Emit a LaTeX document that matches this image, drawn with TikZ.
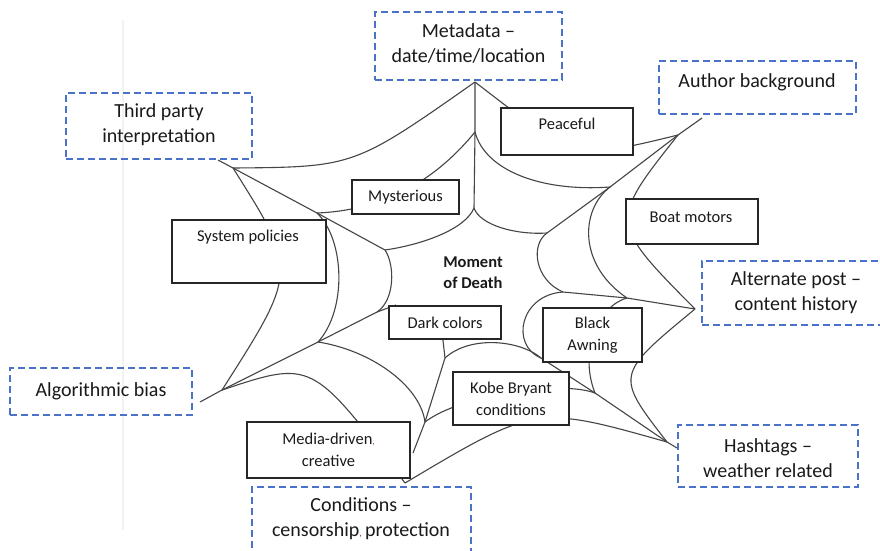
\documentclass[tikz,border=0pt]{standalone}
\usepackage{fontspec}
\setmainfont{Carlito}
\definecolor{webc}{HTML}{454545}
\definecolor{boxc}{HTML}{262626}
\definecolor{dashc}{HTML}{4A72C8}
\definecolor{txtc}{HTML}{1A1A1A}
\definecolor{markc}{HTML}{A020A0}
\tikzset{
  web/.style={draw=webc, line width=1.1pt},
  sbox/.style={draw=boxc, line width=1.3pt, fill=white, inner sep=0pt},
  dbox/.style={draw=dashc, line width=1.2pt, dash pattern=on 7pt off 4pt, inner sep=0pt},
  otext/.style={font=\fontsize{20}{25}\selectfont, text=txtc, align=center, inner sep=0pt},
  itext/.style={font=\fontsize{16.5}{22}\selectfont, text=txtc, align=center, inner sep=0pt},
  ctext/.style={font=\fontsize{16.5}{21}\selectfont\bfseries, text=txtc, align=center, inner sep=0pt},
}
\begin{document}
\begin{tikzpicture}[x=1pt,y=-1pt]
\useasboundingbox (0,0) rectangle (880,550);
\clip (0,0) rectangle (880,550);
\fill[white] (0,0) rectangle (880,550);
% faint scan line
\draw[black!5, line width=1.5pt] (123,20) -- (123,530);
% web vertices
\coordinate (T0) at (475,82);  \coordinate (T1) at (475,132); \coordinate (T2) at (474,208);
\coordinate (UR0) at (678,135); \coordinate (UR1) at (610,187); \coordinate (UR2) at (547,233); \coordinate (URt) at (702,118);
\coordinate (R0) at (695,309); \coordinate (R1) at (627,298); \coordinate (R2) at (563,292);
\coordinate (LR0) at (667,442); \coordinate (LR1) at (595,393); \coordinate (LR2) at (541,358); \coordinate (LRt) at (677,448);
\coordinate (B0) at (405,483); \coordinate (Bs) at (413,453); \coordinate (B1) at (425,422); \coordinate (B2) at (445,358); \coordinate (Be) at (442,332);
\coordinate (L0) at (222,390); \coordinate (L1) at (318,342); \coordinate (L2) at (377,312); \coordinate (Le) at (396,305); \coordinate (Lt) at (200,402);
\coordinate (UL0) at (233,168); \coordinate (UL1) at (317,213); \coordinate (UL2) at (385,250); \coordinate (ULt) at (218,160);
% spokes
\draw[web] (T0) -- (T1) -- (T2);
\draw[web] (URt) -- (UR0) -- (UR1) -- (UR2);
\draw[web] (R0) -- (R1) -- (R2);
\draw[web] (LRt) -- (LR0) -- (LR1) -- (LR2);
\draw[web] (Bs) -- (B1) -- (B2) -- (Be);
\draw[web] (Lt) -- (L0) -- (L1) -- (L2) -- (Le);
\draw[web] (ULt) -- (UL0) -- (UL1) -- (UL2);
% outer ring
\draw[web] (UL0) .. controls (354,167) .. (T0);
\draw[web] (T0) .. controls (576,160) .. (UR0);
\draw[web] (UR0) .. controls (609,222) .. (R0);
\draw[web] (R0) .. controls (615,375) .. (LR0);
\draw[web] (LR0) .. controls (536,405) .. (B0);
\draw[web] (B0) .. controls (312,360) .. (L0);
\draw[web] (L0) .. controls (298,271) .. (UL0);
% middle ring
\draw[web] (UL1) .. controls (390,210) and (440,175) .. (T1);
\draw[web] (T1) .. controls (485,170) and (540,192) .. (UR1);
\draw[web] (UR1) .. controls (580,210) and (578,265) .. (R1);
\draw[web] (R1) .. controls (600,305) and (578,350) .. (LR1);
\draw[web] (LR1) .. controls (560,380) and (460,395) .. (B1);
\draw[web] (B1) .. controls (420,385) and (370,350) .. (L1);
\draw[web] (L1) .. controls (347,310) and (345,240) .. (UL1);
% inner ring
\draw[web] (UL2) .. controls (420,245) and (465,230) .. (T2);
\draw[web] (T2) .. controls (480,225) and (515,235) .. (UR2);
\draw[web] (UR2) .. controls (530,245) and (535,280) .. (R2);
\draw[web] (R2) .. controls (520,295) and (510,345) .. (LR2);
\draw[web] (LR2) .. controls (520,340) and (470,335) .. (B2);
\draw[web] (L2) .. controls (395,300) and (395,265) .. (UL2);
% centre label
\node[ctext] (centre) at (473,272.5) {Moment\\of Death};
% solid boxes
\node[sbox, minimum width=132pt, minimum height=47pt] (peace) at (567,131.5) {};
\node[itext] (peaceT) at (567,124) {Peaceful};
\node[sbox, minimum width=107pt, minimum height=34pt, itext] (myst) at (405.5,197) {Mysterious};
\node[sbox, minimum width=154pt, minimum height=63pt] (syst) at (249,251.5) {};
\node[itext] (systT) at (248,237) {System policies};
\node[sbox, minimum width=132pt, minimum height=45pt] (boat) at (692,221.5) {};
\node[itext] (boatT) at (691,217) {Boat motors};
\node[sbox, minimum width=112pt, minimum height=33pt, itext] (dark) at (445,322.5) {Dark colors};
\node[sbox, minimum width=99pt, minimum height=54pt, itext] (awn) at (592.5,335) {Black\\Awning};
\node[sbox, minimum width=116pt, minimum height=53pt, itext] (kobe) at (511,398.5) {Kobe Bryant\\conditions};
\node[sbox, minimum width=163pt, minimum height=56pt, itext] (media) at (328.5,450) {Media-driven{\color{markc}\fontsize{9}{9}\selectfont,}\\creative};
% dashed boxes
\node[dbox, minimum width=187pt, minimum height=68pt] (meta) at (468.5,46) {};
\node[otext] (metaT) at (468.5,43.5) {Metadata –\\date/time/location};
\node[dbox, minimum width=197pt, minimum height=53pt] (auth) at (757.5,87.5) {};
\node[otext] (authT) at (757,82) {Author background};
\node[dbox, minimum width=186pt, minimum height=66pt] (third) at (159,126) {};
\node[otext] (thirdT) at (159,124.5) {Third party\\interpretation};
\node[dbox, minimum width=188pt, minimum height=64pt] (alt) at (796,293) {};
\node[otext] (altT) at (796,293) {Alternate post –\\content history};
\node[dbox, minimum width=180pt, minimum height=62pt] (hash) at (768,456) {};
\node[otext] (hashT) at (768,458.5) {Hashtags –\\weather related};
\node[dbox, minimum width=182pt, minimum height=47pt] (algo) at (101,391.5) {};
\node[otext] (algoT) at (101,391) {Algorithmic bias};
\node[dbox, minimum width=219pt, minimum height=80pt] (cond) at (361.5,527) {};
\node[otext] (condT) at (361,518.5) {Conditions –\\censorship{\color{markc}\fontsize{10}{10}\selectfont,}\,protection};
\end{tikzpicture}
\end{document}
